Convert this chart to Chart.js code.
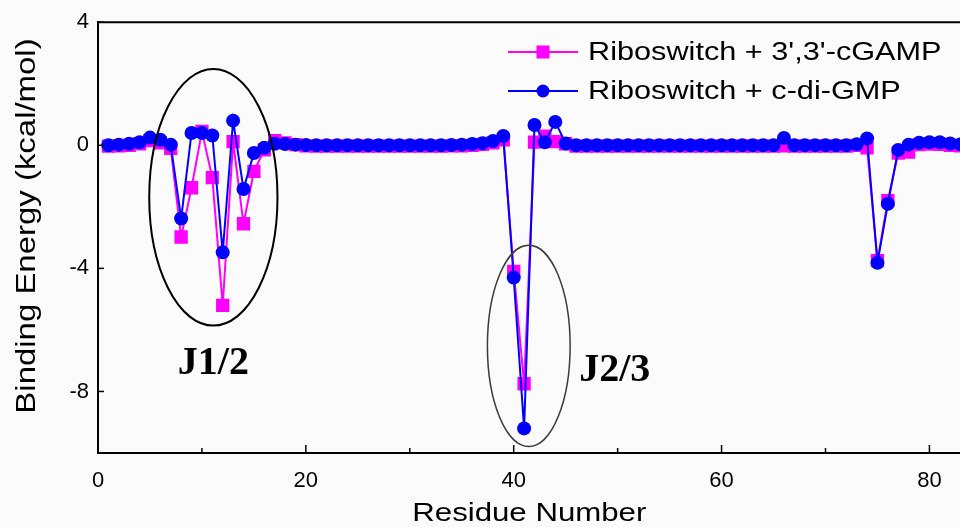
<!DOCTYPE html>
<html>
<head>
<meta charset="utf-8">
<title>Binding energy per residue</title>
<script src="https://cdn.jsdelivr.net/npm/chart.js@4.4.1/dist/chart.umd.min.js"></script>
<style>
  html, body { margin: 0; padding: 0; background: #fbfbfb; overflow: hidden; }
  /* the plot runs off the right edge, so the canvas is a bit wider than the frame */
  #chart-container { width: 960px; height: 527px; overflow: hidden; }
</style>
</head>
<body>
<div id="chart-container"><canvas id="chart" width="970" height="527"></canvas></div>
<script>
// residue numbers along the RNA
const residues = [
   1,  2,  3,  4,  5,  6,  7,  8,  9, 10, 11, 12, 13, 14, 15, 16, 17, 18, 19, 20,
  21, 22, 23, 24, 25, 26, 27, 28, 29, 30, 31, 32, 33, 34, 35, 36, 37, 38, 39, 40,
  41, 42, 43, 44, 45, 46, 47, 48, 49, 50, 51, 52, 53, 54, 55, 56, 57, 58, 59, 60,
  61, 62, 63, 64, 65, 66, 67, 68, 69, 70, 71, 72, 73, 74, 75, 76, 77, 78, 79, 80,
  81, 82, 83, 84
];

// per-residue binding energy (kcal/mol), riboswitch + 3',3'-cGAMP
const cgampEnergy = [
  -0.03, -0.02,  0.00,  0.05,  0.15,  0.08, -0.10, -2.98, -1.38,  0.45,
  -1.05, -5.20,  0.12, -2.55, -0.85, -0.15,  0.15,  0.08,  0.02, -0.02,
  -0.03, -0.03, -0.03, -0.03, -0.03, -0.03, -0.03, -0.03, -0.03, -0.03,
  -0.03, -0.03, -0.03, -0.02, -0.02,  0.00,  0.03,  0.08,  0.18, -4.10,
  -7.75,  0.10,  0.30,  0.12,  0.05, -0.03, -0.03, -0.03, -0.03, -0.03,
  -0.03, -0.03, -0.03, -0.03, -0.03, -0.03, -0.03, -0.03, -0.03, -0.03,
  -0.03, -0.03, -0.03, -0.03, -0.03, -0.02, -0.03, -0.03, -0.03, -0.03,
  -0.03, -0.03,  0.00, -0.08, -3.75, -1.80, -0.25, -0.22,  0.02,  0.04,
   0.03,  0.00, -0.02, -0.03
];

// per-residue binding energy (kcal/mol), riboswitch + c-di-GMP
const cdigmpEnergy = [
   0.00,  0.02,  0.05,  0.10,  0.25,  0.18,  0.02, -2.38,  0.40,  0.40,
   0.32, -3.48,  0.80, -1.42, -0.25, -0.08,  0.05,  0.04,  0.02,  0.01,
   0.00,  0.00,  0.00,  0.00,  0.00,  0.00,  0.00,  0.00,  0.00,  0.00,
   0.00,  0.00,  0.00,  0.01,  0.02,  0.04,  0.07,  0.14,  0.30, -4.30,
  -9.20,  0.66,  0.10,  0.76,  0.06,  0.00,  0.00,  0.00,  0.00,  0.00,
   0.00,  0.00,  0.00,  0.00,  0.00,  0.00,  0.00,  0.00,  0.00,  0.00,
   0.00,  0.00,  0.00,  0.00,  0.00,  0.24,  0.00,  0.00,  0.00,  0.00,
   0.00,  0.00,  0.03,  0.22, -3.82, -1.90, -0.15,  0.02,  0.08,  0.10,
   0.10,  0.06,  0.03,  0.00
];

const xTickValues = [0, 10, 20, 30, 40, 50, 60, 70, 80];
const yTickValues = [4, 0, -4, -8];

// junction regions circled on the plot (data units)
const junctions = [
  { text: 'J1/2', cx: 11.1, cy: -1.69, rx: 6.17, ry: 4.17, tx: 11.1, ty: -7.43, align: 'center', color: '#000', lineWidth: 2 },
  { text: 'J2/3', cx: 41.45, cy: -6.52, rx: 3.98, ry: 3.27, tx: 46.3, ty: -7.66, align: 'left', color: '#3a3a3a', lineWidth: 1.5 }
];

const MAGENTA = '#ff00ff';
const BLUE = '#0000ff';
const SANS = "'Liberation Sans', Arial, sans-serif";

// text drawn a little wider than the plain font
function wideText(ctx, str, x, y, stretch) {
  ctx.save();
  ctx.translate(x, y);
  ctx.scale(stretch, 1);
  ctx.fillText(str, 0, 0);
  ctx.restore();
}

const framePlugin = {
  id: 'frame',
  afterDraw(chart) {
    const { ctx, chartArea: area } = chart;
    const xs = chart.scales.x, ys = chart.scales.y;
    ctx.save();
    ctx.strokeStyle = '#000';
    ctx.lineWidth = 2;

    // top border
    ctx.beginPath();
    ctx.moveTo(area.left - 1, area.top);
    ctx.lineTo(area.right, area.top);
    ctx.stroke();

    // inward ticks
    ctx.lineWidth = 1.5;
    xTickValues.forEach(v => {
      const px = xs.getPixelForValue(v);
      const len = v % 20 === 0 ? 8 : 5;
      ctx.beginPath();
      ctx.moveTo(px, area.bottom);
      ctx.lineTo(px, area.bottom - len);
      ctx.stroke();
    });
    yTickValues.forEach(v => {
      const py = ys.getPixelForValue(v);
      ctx.beginPath();
      ctx.moveTo(area.left, py);
      ctx.lineTo(area.left + 6, py);
      ctx.stroke();
    });

    // axis titles
    ctx.fillStyle = '#000';
    ctx.font = '26px ' + SANS;
    ctx.textAlign = 'center';
    ctx.textBaseline = 'middle';
    wideText(ctx, 'Residue Number', (area.left + area.right) / 2, 514, 1.2);
    ctx.save();
    ctx.translate(28, 226);
    ctx.rotate(-Math.PI / 2);
    ctx.font = '27px ' + SANS;
    wideText(ctx, 'Binding Energy (kcal/mol)', 0, 0, 1.22);
    ctx.restore();

    // legend
    const rows = [
      { label: "Riboswitch + 3',3'-cGAMP", color: MAGENTA, marker: 'rect', y: 52 },
      { label: 'Riboswitch + c-di-GMP', color: BLUE, marker: 'circle', y: 91 }
    ];
    ctx.font = '26px ' + SANS;
    ctx.textAlign = 'left';
    ctx.textBaseline = 'alphabetic';
    rows.forEach(r => {
      ctx.strokeStyle = r.color;
      ctx.fillStyle = r.color;
      ctx.lineWidth = 2;
      ctx.beginPath();
      ctx.moveTo(508, r.y);
      ctx.lineTo(578, r.y);
      ctx.stroke();
      if (r.marker === 'rect') {
        ctx.fillRect(543 - 6.5, r.y - 6.5, 13, 13);
      } else {
        ctx.beginPath();
        ctx.arc(543, r.y, 6.5, 0, Math.PI * 2);
        ctx.fill();
      }
      ctx.fillStyle = '#000';
      wideText(ctx, r.label, 588, r.y + 8, 1.18);
    });
    ctx.restore();
  },
  afterDatasetsDraw(chart) {
    const { ctx } = chart;
    const xs = chart.scales.x, ys = chart.scales.y;
    ctx.save();
    junctions.forEach(j => {
      const cx = xs.getPixelForValue(j.cx);
      const cy = ys.getPixelForValue(j.cy);
      const rx = Math.abs(xs.getPixelForValue(j.cx + j.rx) - cx);
      const ry = Math.abs(ys.getPixelForValue(j.cy + j.ry) - cy);
      ctx.strokeStyle = j.color;
      ctx.lineWidth = j.lineWidth;
      ctx.beginPath();
      ctx.ellipse(cx, cy, rx, ry, 0, 0, Math.PI * 2);
      ctx.stroke();

      ctx.fillStyle = '#000';
      ctx.font = "bold 40px 'Liberation Serif', 'Times New Roman', serif";
      ctx.textAlign = j.align;
      ctx.textBaseline = 'alphabetic';
      ctx.fillText(j.text, xs.getPixelForValue(j.tx), ys.getPixelForValue(j.ty));
    });
    ctx.restore();
  }
};

const ctx = document.getElementById('chart');

new Chart(ctx, {
  type: 'line',
  data: {
    datasets: [{
      label: "Riboswitch + 3',3'-cGAMP",
      data: residues.map((r, i) => ({ x: r, y: cgampEnergy[i] })),
      borderColor: MAGENTA,
      backgroundColor: MAGENTA,
      borderWidth: 2,
      pointStyle: 'rect',
      pointRadius: 9.4,
      pointBorderWidth: 0,
      tension: 0,
      order: 2
    }, {
      label: 'Riboswitch + c-di-GMP',
      data: residues.map((r, i) => ({ x: r, y: cdigmpEnergy[i] })),
      borderColor: BLUE,
      backgroundColor: BLUE,
      borderWidth: 2,
      pointStyle: 'circle',
      pointRadius: 7,
      pointBorderWidth: 0,
      tension: 0,
      order: 1
    }]
  },
  options: {
    responsive: false,
    animation: false,
    devicePixelRatio: 1,
    events: [],
    layout: { padding: { top: 22, right: 0, bottom: 0, left: 0 } },
    plugins: {
      legend: { display: false },
      tooltip: { enabled: false }
    },
    scales: {
      x: {
        type: 'linear',
        min: 0,
        max: 83,
        grid: { display: false, drawTicks: false },
        border: { display: true, color: '#000', width: 2 },
        afterBuildTicks: s => { s.ticks = xTickValues.map(v => ({ value: v })); },
        afterFit: s => { s.height = 74; },
        ticks: {
          autoSkip: false,
          maxRotation: 0,
          padding: 15,
          color: '#000',
          font: { family: SANS, size: 22 },
          callback: v => (v % 20 === 0 ? String(v) : '')
        }
      },
      y: {
        min: -10,
        max: 4,
        grid: { display: false, drawTicks: false },
        border: { display: true, color: '#000', width: 2 },
        afterBuildTicks: s => { s.ticks = yTickValues.map(v => ({ value: v })); },
        afterFit: s => { s.width = 98; },
        ticks: {
          padding: 9,
          color: '#000',
          font: { family: SANS, size: 22 }
        }
      }
    }
  },
  plugins: [framePlugin]
});
</script>
</body>
</html>
